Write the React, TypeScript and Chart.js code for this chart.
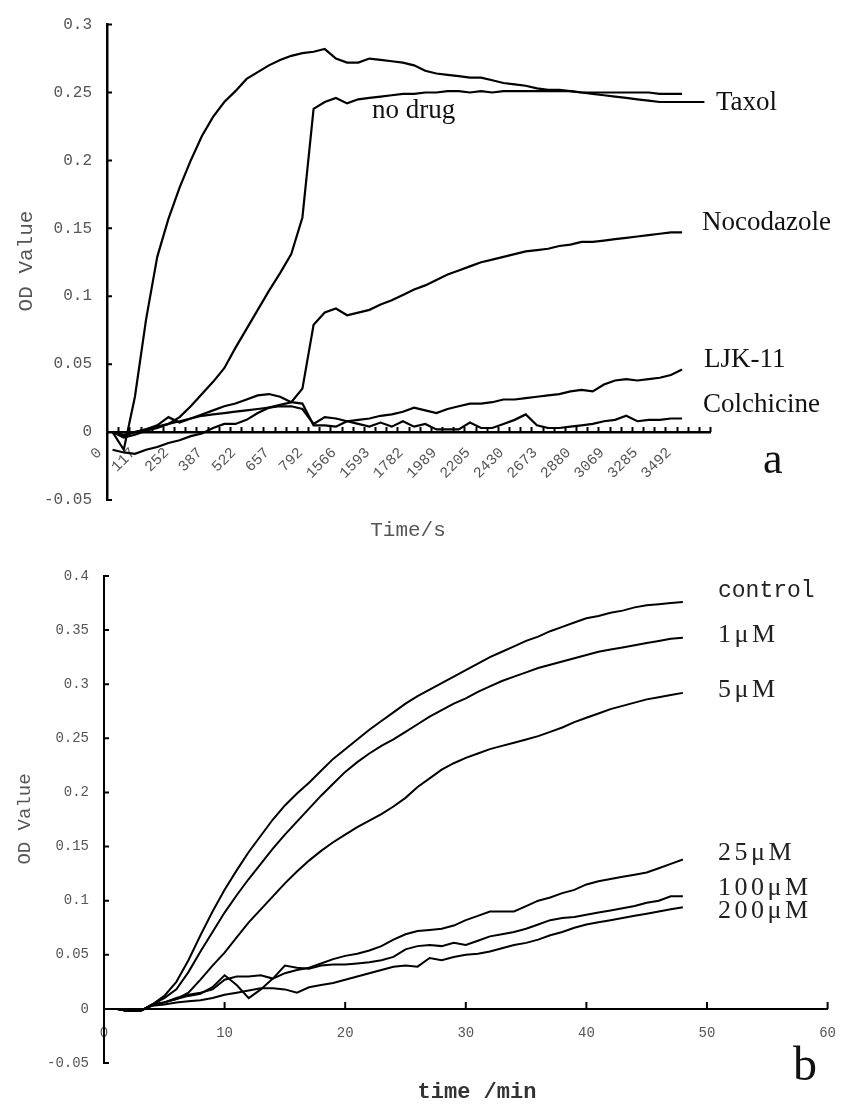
import React, { useEffect, useRef } from 'react';
import { Chart, registerables } from 'chart.js';
Chart.register(...registerables);

// ---------- Chart a data (category axis, time in s) ----------
const timeTickLabelsA = ['0', '117', '252', '387', '522', '657', '792', '1566', '1593', '1782', '1989', '2205', '2430', '2673', '2880', '3069', '3285', '3492'];
const categoryCountA = 54;
const taxol = [0.0, -0.013, 0.026, 0.083, 0.129, 0.157, 0.18, 0.2, 0.218, 0.232, 0.243, 0.251, 0.26, 0.265, 0.27, 0.274, 0.277, 0.279, 0.28, 0.282, 0.275, 0.272, 0.272, 0.275, 0.274, 0.273, 0.272, 0.27, 0.266, 0.264, 0.263, 0.262, 0.261, 0.261, 0.259, 0.257, 0.256, 0.255, 0.253, 0.252, 0.252, 0.251, 0.25, 0.249, 0.248, 0.247, 0.246, 0.245, 0.244, 0.243, 0.243, 0.243, 0.243, 0.243];
const noDrug = [0.0, -0.004, -0.002, 0.001, 0.003, 0.006, 0.011, 0.019, 0.028, 0.037, 0.047, 0.062, 0.076, 0.09, 0.104, 0.117, 0.131, 0.158, 0.238, 0.243, 0.246, 0.242, 0.245, 0.246, 0.247, 0.248, 0.249, 0.249, 0.25, 0.25, 0.251, 0.251, 0.25, 0.251, 0.25, 0.251, 0.251, 0.251, 0.251, 0.251, 0.251, 0.251, 0.25, 0.25, 0.25, 0.25, 0.25, 0.25, 0.25, 0.249, 0.249, 0.249];
const nocodazole = [-0.013, -0.015, -0.016, -0.013, -0.011, -0.008, -0.006, -0.003, -0.001, 0.003, 0.006, 0.006, 0.009, 0.014, 0.018, 0.02, 0.022, 0.032, 0.079, 0.088, 0.091, 0.086, 0.088, 0.09, 0.094, 0.097, 0.101, 0.105, 0.108, 0.112, 0.116, 0.119, 0.122, 0.125, 0.127, 0.129, 0.131, 0.133, 0.134, 0.135, 0.137, 0.138, 0.14, 0.14, 0.141, 0.142, 0.143, 0.144, 0.145, 0.146, 0.147, 0.147];
const ljk11 = [0.0, -0.003, 0.0, 0.002, 0.004, 0.006, 0.008, 0.01, 0.012, 0.013, 0.014, 0.015, 0.016, 0.017, 0.018, 0.019, 0.019, 0.017, 0.006, 0.011, 0.01, 0.008, 0.009, 0.01, 0.012, 0.013, 0.015, 0.018, 0.016, 0.014, 0.017, 0.019, 0.021, 0.021, 0.022, 0.024, 0.024, 0.025, 0.026, 0.027, 0.028, 0.03, 0.031, 0.03, 0.035, 0.038, 0.039, 0.038, 0.039, 0.04, 0.042, 0.046];
const colchicine = [0.0, -0.002, 0.0, 0.002, 0.005, 0.011, 0.007, 0.01, 0.013, 0.016, 0.019, 0.021, 0.024, 0.027, 0.028, 0.026, 0.022, 0.021, 0.005, 0.005, 0.004, 0.008, 0.006, 0.004, 0.007, 0.004, 0.008, 0.004, 0.006, 0.002, 0.002, 0.002, 0.007, 0.003, 0.003, 0.006, 0.009, 0.013, 0.005, 0.003, 0.003, 0.004, 0.005, 0.006, 0.008, 0.009, 0.012, 0.008, 0.009, 0.009, 0.01, 0.01];

// ---------- Chart b data (linear axis, time in min) ----------
const timeMin = Array.from({ length: 48 }, (_, i) => i + 1);
const control = [0, -0.002, -0.002, 0.004, 0.012, 0.025, 0.045, 0.068, 0.09, 0.11, 0.128, 0.145, 0.16, 0.175, 0.188, 0.199, 0.209, 0.22, 0.231, 0.24, 0.249, 0.258, 0.266, 0.274, 0.282, 0.289, 0.295, 0.301, 0.307, 0.313, 0.319, 0.325, 0.33, 0.335, 0.34, 0.344, 0.349, 0.353, 0.357, 0.361, 0.363, 0.366, 0.368, 0.371, 0.373, 0.374, 0.375, 0.376];
const c1uM = [0, -0.002, -0.002, 0.004, 0.01, 0.018, 0.034, 0.053, 0.071, 0.089, 0.105, 0.12, 0.134, 0.148, 0.161, 0.173, 0.185, 0.197, 0.208, 0.219, 0.228, 0.236, 0.243, 0.249, 0.256, 0.263, 0.27, 0.276, 0.282, 0.287, 0.293, 0.298, 0.303, 0.307, 0.311, 0.315, 0.318, 0.321, 0.324, 0.327, 0.33, 0.332, 0.334, 0.336, 0.338, 0.34, 0.342, 0.343];
const c5uM = [0, -0.002, -0.002, 0.003, 0.006, 0.009, 0.015, 0.027, 0.04, 0.052, 0.066, 0.08, 0.092, 0.104, 0.116, 0.127, 0.137, 0.146, 0.154, 0.161, 0.168, 0.174, 0.18, 0.187, 0.195, 0.205, 0.213, 0.221, 0.227, 0.232, 0.236, 0.24, 0.243, 0.246, 0.249, 0.252, 0.256, 0.26, 0.265, 0.269, 0.273, 0.277, 0.28, 0.283, 0.286, 0.288, 0.29, 0.292];
const c25uM = [0, -0.002, -0.002, 0.004, 0.006, 0.01, 0.013, 0.015, 0.018, 0.027, 0.03, 0.03, 0.031, 0.028, 0.033, 0.036, 0.038, 0.042, 0.046, 0.049, 0.051, 0.054, 0.058, 0.064, 0.069, 0.072, 0.073, 0.074, 0.077, 0.082, 0.086, 0.09, 0.09, 0.09, 0.095, 0.1, 0.103, 0.107, 0.11, 0.115, 0.118, 0.12, 0.122, 0.124, 0.126, 0.13, 0.134, 0.138];
const c100uM = [0, -0.002, -0.002, 0.004, 0.006, 0.009, 0.012, 0.014, 0.02, 0.031, 0.022, 0.01, 0.018, 0.028, 0.04, 0.038, 0.037, 0.04, 0.041, 0.041, 0.042, 0.043, 0.045, 0.048, 0.055, 0.058, 0.059, 0.058, 0.061, 0.059, 0.063, 0.067, 0.069, 0.071, 0.074, 0.078, 0.082, 0.084, 0.085, 0.087, 0.089, 0.091, 0.093, 0.095, 0.098, 0.1, 0.104, 0.104];
const c200uM = [0, -0.002, -0.002, 0.003, 0.004, 0.006, 0.007, 0.008, 0.01, 0.013, 0.015, 0.017, 0.019, 0.019, 0.018, 0.015, 0.02, 0.022, 0.024, 0.027, 0.03, 0.033, 0.036, 0.039, 0.04, 0.039, 0.047, 0.045, 0.048, 0.05, 0.051, 0.053, 0.056, 0.059, 0.061, 0.064, 0.068, 0.071, 0.075, 0.078, 0.08, 0.082, 0.084, 0.086, 0.088, 0.09, 0.092, 0.094];

const TEXT_GRAY = '#555';
const MONO = '"Liberation Mono", "DejaVu Sans Mono", monospace';
const SERIF = '"Liberation Serif", "DejaVu Serif", serif';

type Note = { text: string; x: number; y: number; font: string; color: string; align?: CanvasTextAlign; baseline?: CanvasTextBaseline; rotate?: number; spacing?: string };

const notesA: Note[] = [
  { text: 'OD Value', x: 26, y: 261, font: `21px ${MONO}`, color: TEXT_GRAY, align: 'center', baseline: 'middle', rotate: -Math.PI / 2 },
  { text: 'Time/s', x: 408, y: 530, font: `21px ${MONO}`, color: TEXT_GRAY, align: 'center', baseline: 'middle' },
  { text: 'no drug', x: 372, y: 118, font: `27px ${SERIF}`, color: '#111' },
  { text: 'Taxol', x: 716, y: 110, font: `27px ${SERIF}`, color: '#111' },
  { text: 'Nocodazole', x: 702, y: 230, font: `27px ${SERIF}`, color: '#111' },
  { text: 'LJK-11', x: 704, y: 367, font: `27px ${SERIF}`, color: '#111' },
  { text: 'Colchicine', x: 703, y: 412, font: `27px ${SERIF}`, color: '#111' },
  { text: 'a', x: 763, y: 473, font: `44px ${SERIF}`, color: '#111' },
];

const notesB: Note[] = [
  { text: 'OD Value', x: 25, y: 274, font: `19px ${MONO}`, color: TEXT_GRAY, align: 'center', baseline: 'middle', rotate: -Math.PI / 2 },
  { text: 'time /min', x: 477, y: 547, font: `bold 22px ${MONO}`, color: '#333', align: 'center', baseline: 'middle' },
  { text: 'b', x: 793, y: 535, font: `48px ${SERIF}`, color: '#111' },
  { text: 'control', x: 718, y: 52, font: `23px ${MONO}`, color: '#222' },
  { text: '1μM', x: 718, y: 97, font: `26px ${SERIF}`, color: '#222', spacing: '3.5px' },
  { text: '5μM', x: 718, y: 152, font: `26px ${SERIF}`, color: '#222', spacing: '3.5px' },
  { text: '25μM', x: 718, y: 315, font: `26px ${SERIF}`, color: '#222', spacing: '3.5px' },
  { text: '100μM', x: 718, y: 350, font: `26px ${SERIF}`, color: '#222', spacing: '3.5px' },
  { text: '200μM', x: 718, y: 373, font: `26px ${SERIF}`, color: '#222', spacing: '3.5px' },
];

const notesPlugin = (notes: Note[]) => ({
  id: 'notes',
  afterDraw(chart: any) {
    const ctx: CanvasRenderingContext2D = chart.ctx;
    notes.forEach((n) => {
      ctx.save();
      ctx.font = n.font;
      ctx.fillStyle = n.color;
      ctx.textAlign = n.align || 'left';
      ctx.textBaseline = n.baseline || 'alphabetic';
      (ctx as any).letterSpacing = n.spacing || '0px';
      ctx.translate(n.x, n.y);
      if (n.rotate) ctx.rotate(n.rotate);
      ctx.fillText(n.text, 0, 0);
      ctx.restore();
    });
  },
});

const inwardTicksPlugin = (xLen: number, yLen: number, boundaries: boolean, width: number) => ({
  id: 'inwardTicks',
  afterDraw(chart: any) {
    const ctx: CanvasRenderingContext2D = chart.ctx;
    const xs = chart.scales.x;
    const ys = chart.scales.y;
    const y0 = ys.getPixelForValue(0);
    ctx.save();
    ctx.strokeStyle = '#000';
    ctx.lineWidth = width;
    ctx.beginPath();
    if (boundaries) {
      const n = xs.ticks.length;
      for (let k = 1; k <= n; k++) {
        const px = Math.round(xs.getPixelForValue(k - 0.5)) + 0.5;
        ctx.moveTo(px, y0);
        ctx.lineTo(px, y0 - xLen);
      }
    } else {
      xs.ticks.forEach((t: any) => {
        const px = xs.getPixelForValue(t.value);
        ctx.moveTo(px, y0);
        ctx.lineTo(px, y0 - xLen);
      });
    }
    ys.ticks.forEach((t: any) => {
      const py = ys.getPixelForValue(t.value);
      ctx.moveTo(ys.right, py);
      ctx.lineTo(ys.right + yLen, py);
    });
    ctx.stroke();
    ctx.restore();
  },
});

const fmt = (v: any) => String(Math.round(Number(v) * 100) / 100);

const lineDs = (label: string, data: any[], w = 2) => ({
  label,
  data,
  borderColor: '#000',
  backgroundColor: '#000',
  borderWidth: w,
  pointRadius: 0,
  tension: 0,
  fill: false,
});

export default function App() {
  const refA = useRef<HTMLCanvasElement>(null);
  const refB = useRef<HTMLCanvasElement>(null);

  useEffect(() => {
    const categoriesA = Array.from({ length: categoryCountA }, (_, i) => (i % 3 === 0 ? timeTickLabelsA[i / 3] ?? '' : ''));

    const chartA = new Chart(refA.current as HTMLCanvasElement, {
      type: 'line',
      data: {
        labels: categoriesA,
        datasets: [
          lineDs('Taxol', taxol, 2.2),
          lineDs('no drug', noDrug, 2.2),
          lineDs('Nocodazole', nocodazole, 2.2),
          lineDs('LJK-11', ljk11, 2.2),
          lineDs('Colchicine', colchicine, 2.2),
        ],
      },
      options: {
        animation: false,
        responsive: false,
        devicePixelRatio: 1,
        layout: { padding: { left: 0, top: 17, right: 142, bottom: 45 } },
        plugins: { legend: { display: false }, tooltip: { enabled: false } },
        scales: {
          x: {
            type: 'category',
            offset: true,
            position: { y: 0 } as any,
            grid: { display: false, drawTicks: false, tickLength: 0 },
            border: { display: true, color: '#000', width: 2.5 },
            ticks: {
              autoSkip: false,
              minRotation: 45,
              maxRotation: 45,
              padding: 12,
              labelOffset: -13,
              color: TEXT_GRAY,
              font: { family: MONO, size: 15 },
            },
          },
          y: {
            min: -0.05,
            max: 0.3,
            afterFit: (s: any) => { s.width = 107; },
            grid: { display: false, drawTicks: false, tickLength: 0 },
            border: { display: true, color: '#000', width: 2.5 },
            ticks: { stepSize: 0.05, padding: 15, color: TEXT_GRAY, font: { family: MONO, size: 16 }, callback: fmt },
          },
        },
      },
      plugins: [inwardTicksPlugin(5, 5, true, 2), notesPlugin(notesA)],
    } as any);

    const xy = (vals: number[]) => timeMin.map((t, i) => ({ x: t, y: vals[i] }));

    const chartB = new Chart(refB.current as HTMLCanvasElement, {
      type: 'line',
      data: {
        datasets: [
          lineDs('control', xy(control)),
          lineDs('1μM', xy(c1uM)),
          lineDs('5μM', xy(c5uM)),
          lineDs('25μM', xy(c25uM)),
          lineDs('100μM', xy(c100uM)),
          lineDs('200μM', xy(c200uM)),
        ],
      },
      options: {
        animation: false,
        responsive: false,
        devicePixelRatio: 1,
        layout: { padding: { left: 0, top: 31, right: 9, bottom: 46 } },
        plugins: { legend: { display: false }, tooltip: { enabled: false } },
        scales: {
          x: {
            type: 'linear',
            min: 0,
            max: 60,
            position: { y: 0 } as any,
            grid: { display: false, drawTicks: false, tickLength: 0 },
            border: { display: true, color: '#000', width: 2 },
            ticks: { stepSize: 10, padding: 16, color: TEXT_GRAY, font: { family: MONO, size: 14 } },
          },
          y: {
            min: -0.05,
            max: 0.4,
            afterFit: (s: any) => { s.width = 104; },
            grid: { display: false, drawTicks: false, tickLength: 0 },
            border: { display: true, color: '#000', width: 2 },
            ticks: { stepSize: 0.05, padding: 15, color: TEXT_GRAY, font: { family: MONO, size: 14 }, callback: fmt },
          },
        },
      },
      plugins: [inwardTicksPlugin(7, 5, false, 2), notesPlugin(notesB)],
    } as any);

    return () => {
      chartA.destroy();
      chartB.destroy();
    };
  }, []);

  return (
    <div style={{ position: 'absolute', left: 0, top: 0, width: 852, height: 1109, background: '#fff' }}>
      <canvas ref={refA} width={852} height={545} style={{ position: 'absolute', left: 0, top: 0, display: 'block' }} />
      <canvas ref={refB} width={852} height={564} style={{ position: 'absolute', left: 0, top: 545, display: 'block' }} />
    </div>
  );
}
